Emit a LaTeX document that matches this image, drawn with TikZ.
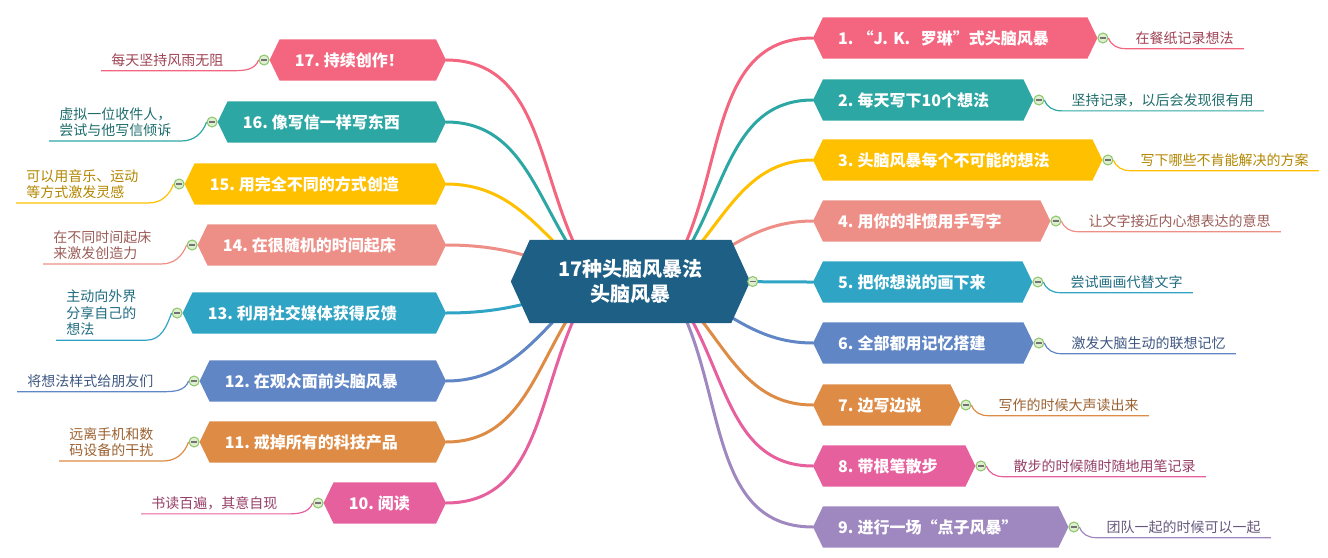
\documentclass[tikz,border=0pt]{standalone}
\usepackage{fontspec}
\newfontfamily\cjk{Noto Sans CJK SC}
\usepackage{tikz}
\usetikzlibrary{positioning}

\definecolor{cnavy}{HTML}{1E5F86}
\definecolor{cpink}{HTML}{F46680}
\definecolor{cteal}{HTML}{2CA7A4}
\definecolor{cyellow}{HTML}{FFC000}
\definecolor{csalmon}{HTML}{EE8F87}
\definecolor{ccyan}{HTML}{2FA4C4}
\definecolor{cblue}{HTML}{6086C6}
\definecolor{corange}{HTML}{DE8B45}
\definecolor{cmagenta}{HTML}{E6609E}
\definecolor{cpurple}{HTML}{9F88C0}
\definecolor{togglerim}{HTML}{8CC56A}
\definecolor{togglefill}{HTML}{DDEFD0}

\pgfdeclarelayer{links}
\pgfdeclarelayer{background}
\pgfsetlayers{links,background,main}

\newcommand{\num}[1]{#1.\kern4pt}

\begin{document}
\begin{tikzpicture}[x=1pt, y=1pt,
	centre/.style={minimum width=239, minimum height=83, inner sep=0, align=center, text=white, font=\cjk\bfseries\fontsize{20}{25}\selectfont},
	branch/.style={inner xsep=25, inner ysep=0, minimum height=41, align=left, text=white, font=\cjk\bfseries\fontsize{16}{19}\selectfont},
	leaf/.style={inner xsep=10, inner ysep=4, align=left, font=\cjk\fontsize{14}{16.5}\selectfont},
	toggle/.style={circle, draw=togglerim, fill=togglefill, line width=1, minimum size=10, inner sep=0,
		path picture={\draw[black!55, line width=1.2] ([xshift=-3]path picture bounding box.center) -- ([xshift=3]path picture bounding box.center);}},
	link/.style={line width=3, line cap=round},
	twig/.style={line width=1.2}]
	\useasboundingbox (0,0) rectangle (1328,-557);

	% centre
	\node[centre] (c) at (630.5,-281.5) {17种头脑风暴法\\头脑风暴};
	\node[toggle, right=-3pt of c] (tc) {};
	\coordinate (cr) at (665,-281);
	\coordinate (cl) at (595,-281);

	% right side
	\node[branch, text width=234, anchor=west] (b1) at (813,-38) {\num{1}“J. K.\ \ 罗琳”式头脑风暴};
	\node[branch, text width=170, anchor=west] (b2) at (813,-100) {\num{2}每天写下10个想法};
	\node[branch, text width=239, anchor=west] (b3) at (813,-160) {\num{3}头脑风暴每个不可能的想法};
	\node[branch, text width=187, anchor=west] (b4) at (813,-221) {\num{4}用你的非惯用手写字};
	\node[branch, text width=169, anchor=west] (b5) at (813,-282) {\num{5}把你想说的画下来};
	\node[branch, text width=170, anchor=west] (b6) at (813,-343) {\num{6}全部都用记忆搭建};
	\node[branch, text width=97, anchor=west] (b7) at (813,-405) {\num{7}边写边说};
	\node[branch, text width=112, anchor=west] (b8) at (813,-466) {\num{8}带根笔散步};
	\node[branch, text width=205, anchor=west] (b9) at (813,-527) {\num{9}进行一场“点子风暴”};

	% left side
	\node[branch, text width=126, anchor=east] (b17) at (446,-60) {\num{17}持续创作！};
	\node[branch, text width=178, anchor=east] (b16) at (446,-122) {\num{16}像写信一样写东西};
	\node[branch, text width=211, anchor=east] (b15) at (446,-184) {\num{15}用完全不同的方式创造};
	\node[branch, text width=198, anchor=east] (b14) at (446,-245) {\num{14}在很随机的时间起床};
	\node[branch, text width=213, anchor=east] (b13) at (446,-313) {\num{13}利用社交媒体获得反馈};
	\node[branch, text width=196, anchor=east] (b12) at (446,-381) {\num{12}在观众面前头脑风暴};
	\node[branch, text width=196, anchor=east] (b11) at (446,-442) {\num{11}戒掉所有的科技产品};
	\node[branch, text width=72, anchor=east] (b10) at (446,-503) {\num{10}阅读};

	% toggles
	\foreach \i in {1,...,9}
		\node[toggle, right=0pt of b\i] (t\i) {};
	\foreach \i in {10,...,17}
		\node[toggle, left=0pt of b\i] (t\i) {};

	% leaves
	\node[leaf, text=cpink!65!black, right=17pt of t1] (l1) {在餐纸记录想法};
	\node[leaf, text=cteal!65!black, right=17pt of t2] (l2) {坚持记录，以后会发现很有用};
	\node[leaf, text=cyellow!70!black, right=17pt of t3] (l3) {写下哪些不肯能解决的方案};
	\node[leaf, text=csalmon!65!black, right=17pt of t4] (l4) {让文字接近内心想表达的意思};
	\node[leaf, text=ccyan!65!black, right=17pt of t5] (l5) {尝试画画代替文字};
	\node[leaf, text=cblue!65!black, right=17pt of t6] (l6) {激发大脑生动的联想记忆};
	\node[leaf, text=corange!70!black, right=17pt of t7] (l7) {写作的时候大声读出来};
	\node[leaf, text=cmagenta!65!black, right=17pt of t8] (l8) {散步的时候随时随地用笔记录};
	\node[leaf, text=cpurple!65!black, right=17pt of t9] (l9) {团队一起的时候可以一起};
	\node[leaf, text=cpink!65!black, left=25pt of t17] (l17) {每天坚持风雨无阻};
	\node[leaf, text=cteal!65!black, left=25pt of t16] (l16) {虚拟一位收件人，\\尝试与他写信倾诉};
	\node[leaf, text=cyellow!70!black, left=25pt of t15] (l15) {可以用音乐、运动\\等方式激发灵感};
	\node[leaf, text=csalmon!65!black, left=25pt of t14] (l14) {在不同时间起床\\来激发创造力};
	\node[leaf, text=ccyan!65!black, left=25pt of t13] (l13) {主动向外界\\分享自己的\\想法};
	\node[leaf, text=cblue!65!black, left=25pt of t12] (l12) {将想法样式给朋友们};
	\node[leaf, text=corange!70!black, left=25pt of t11] (l11) {远离手机和数\\码设备的干扰};
	\node[leaf, text=cmagenta!65!black, left=25pt of t10] (l10) {书读百遍，其意自现};

	% hexagon fills
	\begin{pgfonlayer}{background}
		\fill[cnavy] (c.west) -- ([xshift=19]c.north west) -- ([xshift=-19]c.north east) -- (c.east) -- ([xshift=-19]c.south east) -- ([xshift=19]c.south west) -- cycle;
		\foreach \n/\col in {1/cpink,2/cteal,3/cyellow,4/csalmon,5/ccyan,6/cblue,7/corange,8/cmagenta,9/cpurple,
			17/cpink,16/cteal,15/cyellow,14/csalmon,13/ccyan,12/cblue,11/corange,10/cmagenta}
			\fill[\col] (b\n.west) -- ([xshift=10]b\n.north west) -- ([xshift=-10]b\n.north east) -- (b\n.east) -- ([xshift=-10]b\n.south east) -- ([xshift=10]b\n.south west) -- cycle;
	\end{pgfonlayer}

	% connectors
	\begin{pgfonlayer}{links}
		\foreach \n/\a/\col in {1/55/cpink,2/48/cteal,3/40/cyellow,4/22/csalmon,5/0/ccyan,6/-22/cblue,7/-40/corange,8/-48/cmagenta,9/-55/cpurple}
			\draw[link, \col] (cr) to[out=\a, in=180] (b\n.west);
		\foreach \n/\a/\col in {17/125/cpink,16/132/cteal,15/140/cyellow,14/158/csalmon,13/200/ccyan,12/220/cblue,11/228/corange,10/235/cmagenta}
			\draw[link, \col] (cl) to[out=\a, in=0] (b\n.east);
	\end{pgfonlayer}
	\foreach \n/\col in {1/cpink,2/cteal,3/cyellow,4/csalmon,5/ccyan,6/cblue,7/corange,8/cmagenta,9/cpurple}
		\draw[twig, \col] (t\n.east) to[out=-70, in=180] (l\n.south west) -- (l\n.south east);
	\foreach \n/\col in {17/cpink,16/cteal,15/cyellow,14/csalmon,13/ccyan,12/cblue,11/corange,10/cmagenta}
		\draw[twig, \col] (t\n.west) to[out=-110, in=0] (l\n.south east) -- (l\n.south west);
\end{tikzpicture}
\end{document}
